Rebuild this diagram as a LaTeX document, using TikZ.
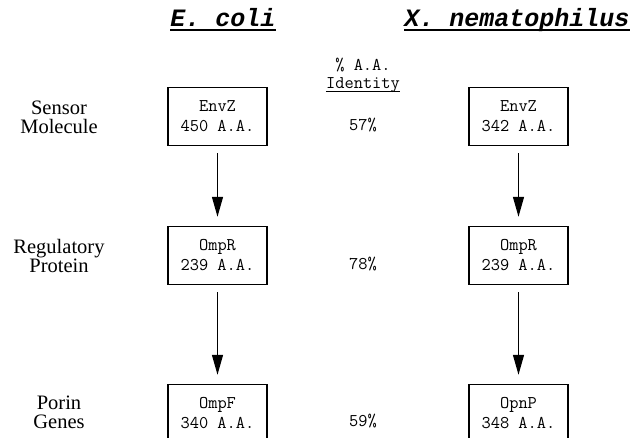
\documentclass[tikz,border=0pt]{standalone}
\usepackage{fontspec}
\setmainfont{Liberation Serif}
\newfontfamily\monofam{Liberation Mono}
\usetikzlibrary{arrows.meta}
\begin{document}
\begin{tikzpicture}[x=1pt,y=-1pt,
  protbox/.style={draw,line width=1.4pt,minimum width=99pt,minimum height=58pt,inner sep=0pt,align=center,
    font=\ttfamily\fontsize{17.9}{20}\selectfont},
  rowlabel/.style={align=center,inner sep=0pt,font=\fontsize{20.5}{19}\selectfont},
  pct/.style={inner sep=0pt,font=\ttfamily\fontsize{17.9}{20}\selectfont},
  title/.style={inner sep=0pt,anchor=base,font=\monofam\bfseries\itshape\fontsize{25}{30}\selectfont},
  flow/.style={line width=1.3pt,-{Triangle[length=20pt,width=11pt]},shorten <=7pt,shorten >=9pt},
  uline/.style={line width=1.2pt}]
\clip (0,0) rectangle (630,438);
\fill[white] (0,0) rectangle (630,438);
% titles
\node[title] (t1) at (223,27) {E. coli};
\node[title] (t2) at (517,27) {X. nematophilus};
\draw[uline] ([yshift=-3pt]t1.base west) -- ([yshift=-3pt]t1.base east);
\draw[uline] ([yshift=-3pt]t2.base west) -- ([yshift=-3pt]t2.base east);
% identity header
\node[pct] (h1) at (363,65) {\% A.A.};
\node[pct,anchor=base] (h2) at (363,89) {Identity};
\draw[line width=0.9pt] ([yshift=-2.5pt]h2.base west) -- ([yshift=-2.5pt]h2.base east);
% row labels
\node[rowlabel] (l1) at (59,117) {Sensor\\Molecule};
\node[rowlabel] (l2) at (59,256) {Regulatory\\Protein};
\node[rowlabel] (l3) at (59,412) {Porin\\Genes};
% E. coli boxes
\node[protbox] (e1) at (217.5,116.5) {EnvZ\\450 A.A.};
\node[protbox] (e2) at (217.5,255.5) {OmpR\\239 A.A.};
\node[protbox] (e3) at (217.5,413.5) {OmpF\\340 A.A.};
% X. nematophilus boxes
\node[protbox] (x1) at (518.5,116.5) {EnvZ\\342 A.A.};
\node[protbox] (x2) at (518.5,255.5) {OmpR\\239 A.A.};
\node[protbox] (x3) at (518.5,413.5) {OpnP\\348 A.A.};
% percentages
\node[pct] (p1) at (363,125) {57\%};
\node[pct] (p2) at (363,264) {78\%};
\node[pct] (p3) at (363,421) {59\%};
% arrows
\draw[flow] (e1) -- (e2);
\draw[flow] (e2) -- (e3);
\draw[flow] (x1) -- (x2);
\draw[flow] (x2) -- (x3);
\end{tikzpicture}
\end{document}
